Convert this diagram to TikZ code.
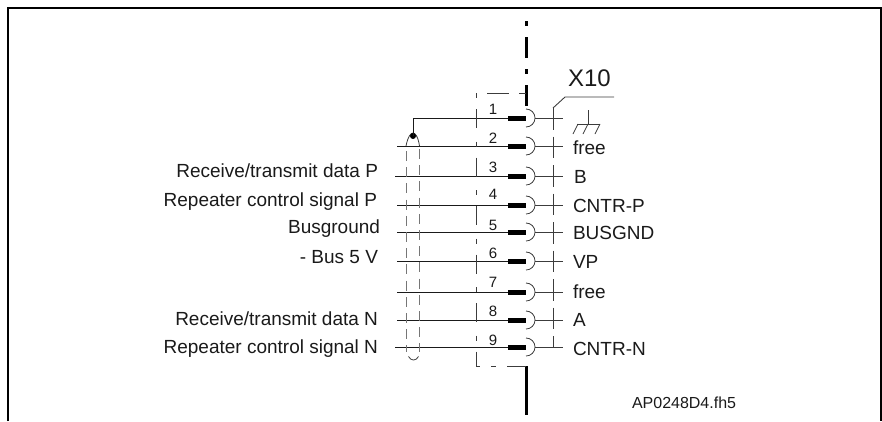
\documentclass[tikz,border=0pt]{standalone}
\usepackage{fontspec}
\setmainfont{Liberation Sans}
\definecolor{ink}{HTML}{1A1A1A}
\tikzset{
  lbl/.style={inner sep=0pt,outer sep=0pt,text=ink,font=\fontsize{19}{21}\selectfont},
  leftlbl/.style={lbl,anchor=base east},
  rightlbl/.style={lbl,anchor=base west},
  numlbl/.style={inner sep=0pt,outer sep=0pt,text=ink,anchor=base,font=\fontsize{15}{17}\selectfont},
  wire/.style={draw=ink,line width=0.9pt},
  thin wire/.style={draw=ink!85,line width=0.8pt},
  pinbar/.style={draw=black,line width=5pt},
  boxline/.style={draw=ink!85,line width=0.9pt},
  axisline/.style={draw=black,line width=3pt},
  shield/.style={draw=ink!60,line width=0.9pt,dash pattern=on 10pt off 6.2pt},
  frameline/.style={draw=black,line width=2pt}
}
\begin{document}
\begin{tikzpicture}[x=1pt,y=-1pt]
\useasboundingbox (0,0) rectangle (882,421);
% frame
\coordinate (fa) at (8,421); \coordinate (fb) at (8,8); \coordinate (fc) at (881,8); \coordinate (fd) at (881,421);
\draw[frameline] (fa) -- (fb) -- (fc) -- (fd);
% pins
\foreach \n/\y/\xl/\yn in {1/118/413/114,2/146/397/143,3/176/395/172,4/205/397/199,5/232/397/230,6/261/397/258,7/292/397/287,8/320/397/316,9/347/395/345}{
  \coordinate (wl\n) at (\xl,\y);
  \coordinate (bar\n) at (508,\y);
  \coordinate (mid\n) at (526,\y);
  \coordinate (arcend\n) at (535,\y);
  \coordinate (wr\n) at (563,\y);
  \draw[wire] (wl\n) -- (bar\n);
  \draw[pinbar] (bar\n) -- (mid\n);
  \draw[thin wire] (526,\y-9) .. controls (531,\y-9) and (535,\y-5) .. (arcend\n) .. controls (535,\y+5) and (531,\y+9) .. (526,\y+9);
  \draw[thin wire] (arcend\n) -- (wr\n);
  \node[numlbl] (num\n) at (493,\yn) {\n};
}
% centre axis
\coordinate (ax1) at (526,21); \coordinate (ax2) at (526,106);
\coordinate (ax3) at (526,366); \coordinate (ax4) at (526,415);
\draw[axisline,dash pattern=on 5pt off 11pt on 21pt off 11pt] (ax1) -- (ax2);
\draw[axisline] (ax3) -- (ax4);
% connector box
\coordinate (ba) at (476,93); \coordinate (bb) at (476,366);
\draw[boxline,dash pattern=on 5pt off 11pt on 19pt off 13.5pt] (ba) -- (bb);
\draw[boxline] (476,366) -- (480,366) (491,366) -- (496,366) (507,366) -- (ax3);
\draw[boxline] (487,93) -- (509,93) (519,93) -- (526,93);
% right dashed line and X10 leader
\coordinate (ra) at (553,108); \coordinate (rb) at (553,347);
\coordinate (rc) at (565,97); \coordinate (rd) at (614,97);
\draw[boxline,dash pattern=on 21.5pt off 7pt] (ra) -- (rb);
\draw[boxline] (ra) -- (rc) -- (rd);
\node[lbl,anchor=base west,font=\fontsize{24}{26}\selectfont] (x10) at (568,86) {X10};
% ground
\coordinate (ga) at (588,110); \coordinate (gb) at (588,124);
\draw[thin wire] (ga) -- (gb);
\draw[thin wire] (577,124) -- (600,124);
\foreach \gx in {578,588,600}{\draw[thin wire] (\gx,124) -- (\gx-5,134);}
% shield
\coordinate (sa) at (406,151); \coordinate (sb) at (406,352);
\coordinate (sc) at (419.5,149); \coordinate (sd) at (419.5,352);
\coordinate (dot) at (413,136);
\draw[shield] (sa) -- (sb);
\draw[shield] (sc) -- (sd);
\draw[thin wire] (406,146) .. controls (408,136) and (411,133) .. (413,133) .. controls (415,133) and (418,136) .. (419.5,146);
\draw[thin wire] (408.5,356.5) .. controls (410,359) and (411.5,360) .. (413.5,360) .. controls (415.5,360) and (417,359) .. (418.5,356.5);
\fill[black] (dot) circle (3);
\draw[wire] (wl1) -- (dot);
% left labels
\node[leftlbl] (l3) at (378,177) {Receive/transmit data P};
\node[leftlbl] (l4) at (377,206) {Repeater control signal P};
\node[leftlbl] (l5) at (380,233) {Busground};
\node[leftlbl] (l6) at (378,263) {- Bus 5 V};
\node[leftlbl] (l8) at (378,325) {Receive/transmit data N};
\node[leftlbl] (l9) at (378,353) {Repeater control signal N};
% right labels
\node[rightlbl] (r2) at (573,154) {free};
\node[rightlbl] (r3) at (574,183) {B};
\node[rightlbl] (r4) at (573,212) {CNTR-P};
\node[rightlbl] (r5) at (573,239) {BUSGND};
\node[rightlbl] (r6) at (573,268) {VP};
\node[rightlbl] (r7) at (573,298) {free};
\node[rightlbl] (r8) at (573,326) {A};
\node[rightlbl] (r9) at (573,355) {CNTR-N};
\node[lbl,anchor=base west,font=\fontsize{16}{18}\selectfont] (file) at (632,408) {AP0248D4.fh5};
\end{tikzpicture}
\end{document}
